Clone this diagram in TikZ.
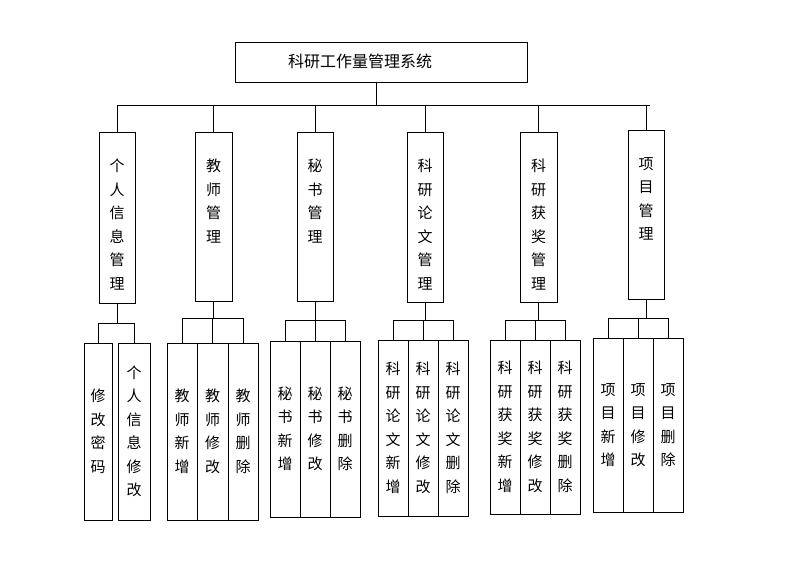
\documentclass[tikz,border=0pt]{standalone}
\usepackage{fontspec}
\setmainfont{Noto Sans CJK SC}
\begin{document}
\begin{tikzpicture}[x=1pt,y=-1pt,
  box/.style={draw,line width=0.8pt},
  vt/.style={align=center,font=\fontsize{15}{23.5}\selectfont,inner sep=0pt},
  ln/.style={line width=0.8pt}]
\useasboundingbox (0,0) rectangle (786,564);
\draw[box] (235,42) rectangle (527,82);
\node[font=\fontsize{16}{18}\selectfont] (top) at (360,61) {科研工作量管理系统};
\coordinate (t) at (376,82);
\coordinate (tb) at (376,105);
\draw[ln] (t) -- (tb);
\draw[ln] (118,105) -- (650,105);
\foreach \i/\a/\b/\c/\d/\t in {1/99/135/132/303/{个\\人\\信\\息\\管\\理},
  2/195/232/132/301/{教\\师\\管\\理},
  3/297/333/132/301/{秘\\书\\管\\理},
  4/407/443/132/302/{科\\研\\论\\文\\管\\理},
  5/520/557/132/302/{科\\研\\获\\奖\\管\\理},
  6/628/664/130/299/{项\\目\\管\\理}}{
  \pgfmathsetmacro\cx{(\a+\b)/2}
  \draw[box] (\a,\c) rectangle (\b,\d);
  \node[vt,anchor=north] (L\i) at (\cx,\c+27) {\t};
  \draw[ln] (\cx,105) -- (\cx,\c);
}
\foreach \cx/\by/\bus/\xa/\xb in {117/303/323/98/134, 213.5/301/318/182/243, 315/301/320/285/345,
  425/302/320/393/453, 538.5/302/320/505/565, 646/299/318/608/668}{
  \draw[ln] (\cx,\by) -- (\cx,\bus);
  \draw[ln] (\xa,\bus) -- (\xb,\bus);
}
\foreach \n/\a/\b/\c/\d/\bus/\t in {
 a/84/112/343/520/323/{修\\改\\密\\码}, b/118/150/343/520/323/{个\\人\\信\\息\\修\\改},
 c/167/197/343/520/318/{教\\师\\新\\增}, d/197/228/343/520/318/{教\\师\\修\\改}, e/228/258/343/520/318/{教\\师\\删\\除},
 f/270/300/341/517/320/{秘\\书\\新\\增}, g/300/330/341/517/320/{秘\\书\\修\\改}, h/330/360/341/517/320/{秘\\书\\删\\除},
 i/378/408/340/516/320/{科\\研\\论\\文\\新\\增}, j/408/438/340/516/320/{科\\研\\论\\文\\修\\改}, k/438/468/340/516/320/{科\\研\\论\\文\\删\\除},
 l/490/520/340/514/320/{科\\研\\获\\奖\\新\\增}, m/520/550/340/514/320/{科\\研\\获\\奖\\修\\改}, o/550/580/340/514/320/{科\\研\\获\\奖\\删\\除},
 p/593/623/338/512/318/{项\\目\\新\\增}, q/623/653/338/512/318/{项\\目\\修\\改}, r/653/683/338/512/318/{项\\目\\删\\除}}{
  \pgfmathsetmacro\cx{(\a+\b)/2}
  \draw[box] (\a,\c) rectangle (\b,\d);
  \node[vt] (C\n) at (\cx,{(\c+\d)/2}) {\t};
  \draw[ln] (\cx,\bus) -- (\cx,\c);
}
\end{tikzpicture}
\end{document}
